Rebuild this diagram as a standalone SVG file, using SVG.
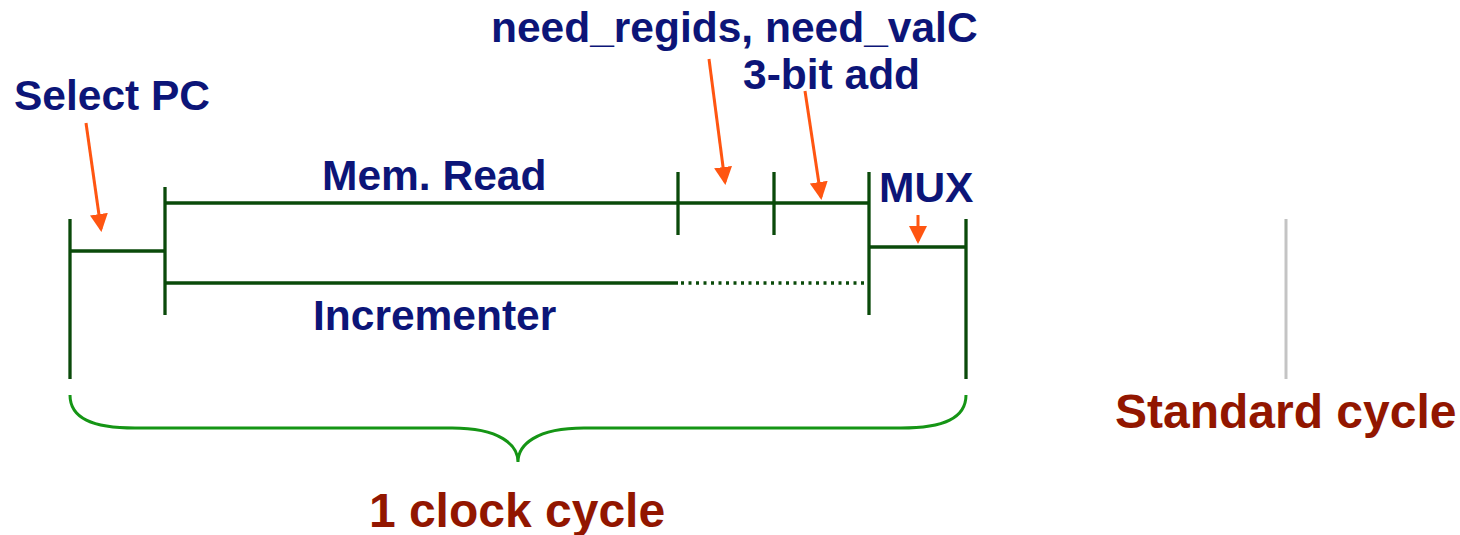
<svg xmlns="http://www.w3.org/2000/svg" width="1460" height="535" viewBox="0 0 1460 535">
<defs>
<style>
.lbl{font-family:"Liberation Sans",Arial,sans-serif;font-weight:bold;font-size:42.5px;fill:#0c1578}
.big{font-family:"Liberation Sans",Arial,sans-serif;font-weight:bold;font-size:48px;fill:#921600}
.tl{stroke:#0a4a0a;stroke-width:3.3;fill:none}
.arr{stroke:#ff5511;stroke-width:3;fill:none;marker-end:url(#ah)}
</style>
<marker id="ah" markerWidth="6" markerHeight="6" refX="5" refY="3" orient="auto" markerUnits="strokeWidth">
<path d="M0,0 L6,3 L0,6 Z" fill="#ff5511"/>
</marker>
</defs>
<rect width="1460" height="535" fill="#fff"/>
<g id="timeline">
<line class="tl" x1="70" y1="219" x2="70" y2="379"/>
<line class="tl" x1="70" y1="251" x2="165" y2="251"/>
<line class="tl" x1="165" y1="187" x2="165" y2="315"/>
<line class="tl" x1="165" y1="203" x2="869" y2="203"/>
<line class="tl" x1="678" y1="172" x2="678" y2="235"/>
<line class="tl" x1="774" y1="172" x2="774" y2="235"/>
<line class="tl" x1="869" y1="172" x2="869" y2="315"/>
<line class="tl" x1="165" y1="283" x2="678" y2="283"/>
<line class="tl" x1="681" y1="283" x2="866" y2="283" stroke-dasharray="3 4.5"/>
<line class="tl" x1="869" y1="247" x2="966" y2="247"/>
<line class="tl" x1="966" y1="219" x2="966" y2="379"/>
</g>
<g id="standard">
<line x1="1286" y1="219" x2="1286" y2="379" stroke="#c4c4c4" stroke-width="3"/>
<text class="big" x="1115" y="428">Standard cycle</text>
</g>
<g id="brace">
<path d="M70,395 C70,418 92,428 135,428 L452,428 C500,428 518,445 518,462 C518,445 536,428 584,428 L901,428 C944,428 966,418 966,395" stroke="#159515" stroke-width="3" fill="none"/>
<text class="big" x="517" y="527" text-anchor="middle">1 clock cycle</text>
</g>
<g id="labels">
<text class="lbl" x="14" y="110">Select PC</text>
<text class="lbl" x="491" y="42">need_regids, need_valC</text>
<text class="lbl" x="743" y="89">3-bit add</text>
<text class="lbl" x="322" y="190">Mem. Read</text>
<text class="lbl" x="313" y="330">Incrementer</text>
<text class="lbl" x="879" y="202">MUX</text>
</g>
<g id="connectors">
<line class="arr" x1="86" y1="123" x2="101" y2="229"/>
<line class="arr" x1="709" y1="59" x2="725" y2="182"/>
<line class="arr" x1="805" y1="91" x2="821" y2="197"/>
<line class="arr" x1="918" y1="215" x2="918" y2="241"/>
</g>
</svg>
